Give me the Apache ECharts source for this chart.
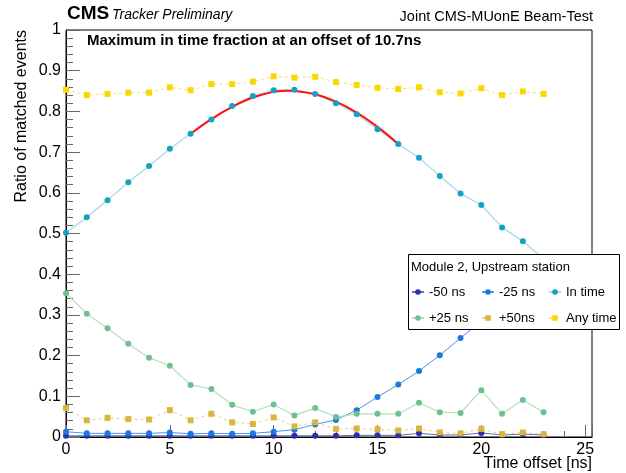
<!DOCTYPE html>
<html>
<head>
<meta charset="utf-8">
<script src="https://cdn.jsdelivr.net/npm/echarts@6/dist/echarts.min.js"></script>
<style>html,body{margin:0;padding:0;background:#fff;}#c{width:626px;height:473px;}</style>
</head>
<body>
<div id="c"></div>
<script>
var xs = [0,1,2,3,4,5,6,7,8,9,10,11,12,13,14,15,16,17,18,19,20,21,22,23];
var m50 = [0.003,0.003,0.003,0.003,0.003,0.003,0.003,0.003,0.003,0.003,0.003,0.003,0.003,0.003,0.004,0.004,0.004,0.009,0.005,0.005,0.010,0.005,0.007,0.005];
var m25 = [0.013,0.009,0.009,0.009,0.009,0.011,0.008,0.009,0.008,0.009,0.013,0.018,0.031,0.042,0.066,0.098,0.129,0.162,0.201,0.243,0.285,0.330,0.375,0.420];
var inTime = [0.502,0.540,0.582,0.626,0.666,0.708,0.745,0.780,0.813,0.838,0.852,0.853,0.843,0.820,0.793,0.756,0.720,0.686,0.641,0.598,0.570,0.515,0.481,0.438];
var p25 = [0.353,0.303,0.267,0.229,0.195,0.175,0.128,0.118,0.079,0.062,0.080,0.053,0.071,0.049,0.057,0.057,0.057,0.084,0.061,0.059,0.115,0.057,0.091,0.061];
var p50 = [0.071,0.041,0.047,0.044,0.043,0.066,0.041,0.057,0.036,0.032,0.048,0.026,0.036,0.020,0.021,0.019,0.016,0.021,0.011,0.009,0.020,0.007,0.011,0.007];
var anyTime = [0.853,0.840,0.843,0.846,0.846,0.859,0.852,0.867,0.867,0.873,0.886,0.883,0.885,0.872,0.865,0.858,0.855,0.859,0.847,0.844,0.857,0.840,0.849,0.843];
var fitX = [6,7,8,9,10,10.7,11,12,13,14,15,16];
var fitY = [0.745,0.781,0.811,0.834,0.848,0.851,0.850,0.842,0.824,0.797,0.762,0.720];
var xTicks = [0,5,10,15,20,25];
var seriesNames = ['-50 ns','-25 ns','In time','+25 ns','+50ns','Any time'];

var FONT = 'Liberation Sans, Arial, Helvetica, sans-serif';
function pairs(xa, ya){ return xa.map(function(x,i){ return [x, ya[i]]; }); }

function lineSeries(name, data, color, lineColor, symbol, dotted, lw){
  return {
    name: name, type: 'line', data: data,
    symbol: symbol, symbolSize: symbol === 'rect' ? 6 : 6,
    itemStyle: {color: color},
    lineStyle: {color: lineColor, width: lw || 1, type: dotted ? [3,3] : 'solid'},
    emphasis: {disabled: true},
    animation: false
  };
}

var chart = echarts.init(document.getElementById('c'), null, {renderer: 'canvas'});
var option = {
  backgroundColor: '#fff',
  animation: false,
  grid: {left: 66, right: 34, top: 30, bottom: 36, show: true, borderColor: '#000', borderWidth: 1, backgroundColor: 'transparent'},
  xAxis: [{
    type: 'value', min: 0, max: 25.33, interval: 5, position: 'bottom',
    axisLine: {show: true, onZero: false, lineStyle: {color: '#000', width: 1}},
    axisTick: {show: true, inside: true, length: 12, lineStyle: {color: '#666'}},
    axisLabel: {fontSize: 16, color: '#000', fontFamily: FONT, margin: 5,
      formatter: function(v){ return xTicks.indexOf(Math.round(v*1000)/1000) >= 0 ? String(Math.round(v)) : ''; }},
    splitLine: {show: false}
  },{
    type: 'value', min: 0, max: 25.33, interval: 1, position: 'bottom',
    axisLine: {show: false},
    axisTick: {show: true, inside: true, length: 6, lineStyle: {color: '#666'}},
    axisLabel: {show: false},
    splitLine: {show: false}
  }],
  yAxis: [{
    type: 'value', min: 0, max: 1, interval: 0.1,
    axisLine: {show: true, onZero: false, lineStyle: {color: '#000', width: 1}},
    axisTick: {show: true, inside: true, length: 14, lineStyle: {color: '#666'}},
    minorTick: {show: true, splitNumber: 5, length: 7, lineStyle: {color: '#666'}},
    axisLabel: {fontSize: 16, color: '#000', fontFamily: FONT, margin: 5,
      formatter: function(v){ return String(Math.round(v*10)/10); }},
    splitLine: {show: false}
  }],
  legend: [
    {data: ['-50 ns','+25 ns'], left: 411, top: 285},
    {data: ['-25 ns','+50ns'], left: 481, top: 285},
    {data: ['In time','Any time'], left: 548, top: 285}
  ].map(function(l){
    return Object.assign(l, {orient: 'vertical', padding: 0, itemGap: 12, itemWidth: 12, itemHeight: 7, z: 120,
      selectedMode: false, textStyle: {fontSize: 13, color: '#000', fontFamily: FONT, lineHeight: 14}});
  }),
  series: [
    lineSeries('-50 ns', pairs(xs, m50), '#2b30a6', 'rgba(50,55,170,0.75)', 'circle', false, 1),
    lineSeries('-25 ns', pairs(xs, m25), '#1c78dc', 'rgba(40,130,225,0.85)', 'circle', false, 1),
    lineSeries('In time', pairs(xs, inTime), '#14a2c2', '#a3dbe9', 'circle', false, 1.3),
    {name: 'fit', type: 'line', data: pairs(fitX, fitY), smooth: 0.4, symbol: 'none',
      lineStyle: {color: '#ff1010', width: 2}, emphasis: {disabled: true}, animation: false, z: 3},
    lineSeries('+25 ns', pairs(xs, p25), '#6ec08d', '#b3e0c3', 'circle', false, 1.2),
    lineSeries('+50ns', pairs(xs, p50), '#d9b63f', '#e9d27e', 'rect', true, 1),
    lineSeries('Any time', pairs(xs, anyTime), '#f9d800', '#f5e06a', 'rect', true, 1)
  ],
  graphic: [
    {type: 'text', x: 67, y: 13.5, z: 100, style: {text: 'CMS', font: 'bold 19px ' + FONT, fill: '#000', textVerticalAlign: 'middle'}},
    {type: 'text', x: 112, y: 15, z: 100, style: {text: 'Tracker Preliminary', font: 'italic 14px ' + FONT, fill: '#000', textVerticalAlign: 'middle'}},
    {type: 'text', x: 593, y: 17, z: 100, style: {text: 'Joint CMS-MUonE Beam-Test', font: '14.5px ' + FONT, fill: '#000', textAlign: 'right', textVerticalAlign: 'middle'}},
    {type: 'text', x: 87, y: 40.5, z: 100, style: {text: 'Maximum in time fraction at an offset of 10.7ns', font: 'bold 15px ' + FONT, fill: '#000', textVerticalAlign: 'middle'}},
    {type: 'text', x: 22, y: 30, rotation: Math.PI/2, z: 100, style: {text: 'Ratio of matched events', font: '16px ' + FONT, fill: '#000', textAlign: 'right', textVerticalAlign: 'middle'}},
    {type: 'text', x: 592, y: 464, z: 100, style: {text: 'Time offset [ns]', font: '16px ' + FONT, fill: '#000', textAlign: 'right', textVerticalAlign: 'middle'}},
    {type: 'rect', z: 100, shape: {x: 408.5, y: 254.5, width: 211, height: 75}, style: {fill: '#fff', stroke: '#000', lineWidth: 1}},
    {type: 'text', x: 411, y: 267, z: 101, style: {text: 'Module 2, Upstream station', font: '13px ' + FONT, fill: '#000', textVerticalAlign: 'middle'}}
  ]
};
chart.setOption(option);
</script>
</body>
</html>
